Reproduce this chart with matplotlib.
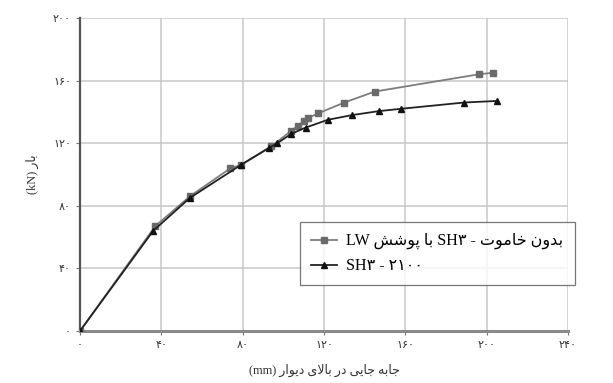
import matplotlib
matplotlib.use('Agg')
import matplotlib.pyplot as plt
from matplotlib.ticker import FuncFormatter

# displacement (mm) / load (kN)
x_lw = [0, 37, 54, 74, 79, 94, 104, 107, 110, 112, 117, 130, 145, 196, 203]
y_lw = [0, 67, 86, 104, 106, 118, 128, 131, 134, 136, 139, 146, 153, 164, 165]

x_ref = [0, 36, 54, 79, 93, 97, 104, 111, 122, 134, 147, 158, 189, 205]
y_ref = [0, 64, 85, 106, 117, 120, 126, 130, 135, 138, 140.5, 142, 146, 147]

x_ticks = [0, 40, 80, 120, 160, 200, 240]
y_ticks = [0, 40, 80, 120, 160, 200]

# persian words already shaped (presentation forms, visual order)
def vis(codes):
    return ''.join(chr(c) for c in reversed(codes))

w_bar = vis([0xFE91, 0xFE8E, 0xFEAD])
w_jabe = vis([0xFE9F, 0xFE8E, 0xFE91, 0xFEEA])
w_jayi = vis([0xFE9F, 0xFE8E, 0xFEF3, 0xFEF0])
w_dar = vis([0xFEA9, 0xFEAD])
w_balay = vis([0xFE91, 0xFE8E, 0xFEFB, 0xFEEF])
w_divar = vis([0xFEA9, 0xFEF3, 0xFEEE, 0xFE8D, 0xFEAD])
w_pooshesh = vis([0xFB58, 0xFEEE, 0xFEB7, 0xFEB6])
w_ba = vis([0xFE91, 0xFE8E])
w_khamoot = vis([0xFEA7, 0xFE8E, 0xFEE3, 0xFEEE, 0xFE95])
w_bedoon = vis([0xFE91, 0xFEAA, 0xFEED, 0xFEE5])

xlabel = '(mm) ' + ' '.join([w_divar, w_balay, w_dar, w_jayi, w_jabe])
ylabel = '(kN) ' + w_bar
label_lw = 'LW ' + w_pooshesh + ' ' + w_ba + ' SH\u06F3 - ' + w_khamoot + ' ' + w_bedoon
label_ref = 'SH\u06F3 - \u06F2\u06F1\u06F0\u06F0'

fa_digits = str.maketrans('0123456789', '\u06F0\u06F1\u06F2\u06F3\u06F4\u06F5\u06F6\u06F7\u06F8\u06F9')
def fa(v, pos=None):
    return str(int(v)).translate(fa_digits)

fonts = ['Liberation Serif', 'DejaVu Sans']

fig = plt.figure(figsize=(6.13, 3.83), dpi=100)
ax = fig.add_axes([0.1305, 0.1358, 0.7961, 0.8172])

ax.plot(x_lw, y_lw, color='#7d7d7d', lw=1.3, marker='s', ms=3.8,
        mfc='#6a6a6a', mec='#6a6a6a', label=label_lw, zorder=3)
ax.plot(x_ref, y_ref, color='#222222', lw=1.3, marker='^', ms=4.2,
        mfc='#111111', mec='#111111', label=label_ref, zorder=3)

ax.set_xlim(0, 240)
ax.set_ylim(0, 200)
ax.set_xticks(x_ticks)
ax.set_yticks(y_ticks)
ax.xaxis.set_major_formatter(FuncFormatter(fa))
ax.yaxis.set_major_formatter(FuncFormatter(fa))
ax.tick_params(labelsize=8, length=3, color='#777777', labelcolor='#333333')

ax.grid(True, color='#c8c8c8', lw=1.1)
ax.set_axisbelow(True)
for s in ['top', 'right']:
    ax.spines[s].set_visible(False)
ax.spines['left'].set_color('#555555')
ax.spines['left'].set_linewidth(1.6)
ax.spines['bottom'].set_color('#8a8a8a')
ax.spines['bottom'].set_linewidth(2.2)

ax.set_xlabel(xlabel, fontsize=9, family=fonts, color='#333333', labelpad=10)
ax.set_ylabel(ylabel, fontsize=9, family=fonts, color='#333333', labelpad=10)

leg = ax.legend(loc='upper left', bbox_to_anchor=(300 / 613, 1 - 222 / 383),
                bbox_transform=fig.transFigure, borderaxespad=0,
                prop={'family': fonts, 'size': 11.5},
                frameon=True, fancybox=False, edgecolor='#555555',
                handlelength=1.6, handletextpad=0.6, borderpad=0.7, labelspacing=0.55)
leg.get_frame().set_linewidth(0.9)

fig.savefig('out.png', dpi=100, facecolor='white')
